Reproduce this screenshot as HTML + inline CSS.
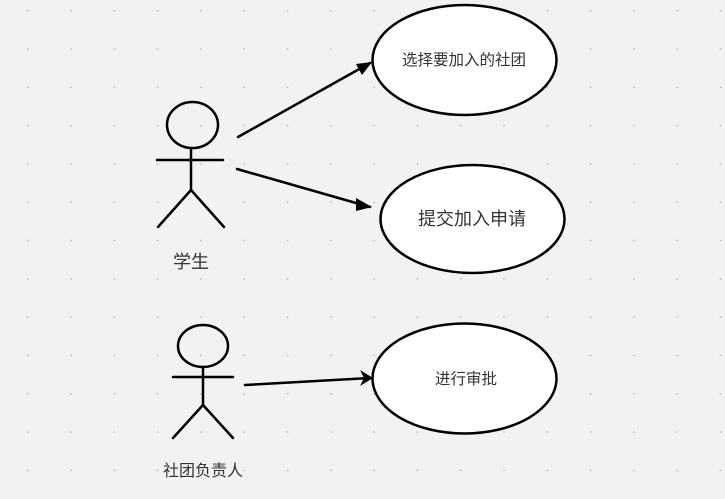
<!DOCTYPE html>
<html><head><meta charset="utf-8"><style>
html,body{margin:0;padding:0;background:#f2f2f4;}
svg{display:block}
text{font-family:"Liberation Sans","Noto Sans CJK SC",sans-serif;fill:#333;}
</style></head><body>
<svg width="725" height="499" viewBox="0 0 725 499" xmlns="http://www.w3.org/2000/svg">
<defs>
<pattern id="g" x="27" y="10" width="43.3" height="38.3" patternUnits="userSpaceOnUse">
<rect x="0" y="0" width="1.5" height="1.5" fill="#bbb"/>
</pattern>
</defs>
<rect width="725" height="499" fill="#f2f2f4"/>
<rect width="725" height="499" fill="url(#g)"/>
<g stroke="#000" stroke-width="2.5" fill="none" stroke-linecap="round">
<ellipse cx="464.5" cy="60" rx="92" ry="55" fill="#fff"/>
<ellipse cx="472.5" cy="219" rx="92" ry="54" fill="#fff"/>
<ellipse cx="464.5" cy="378.5" rx="92" ry="55" fill="#fff"/>
<ellipse cx="192.5" cy="125" rx="25.5" ry="23"/>
<line x1="157" y1="160" x2="223" y2="160"/>
<line x1="191" y1="148" x2="191" y2="190"/>
<line x1="191" y1="190" x2="158" y2="227"/>
<line x1="191" y1="190" x2="224" y2="227"/>
<ellipse cx="203" cy="346" rx="25" ry="21"/>
<line x1="173" y1="377" x2="233" y2="377"/>
<line x1="203" y1="367" x2="203" y2="405"/>
<line x1="203" y1="405" x2="173" y2="438"/>
<line x1="203" y1="405" x2="233" y2="438"/>
<line x1="238" y1="137" x2="370" y2="63"/>
<line x1="237" y1="169" x2="370" y2="207"/>
<line x1="245" y1="385" x2="370" y2="378"/>
</g>
<g fill="#000">
<polygon points="372,62 356,64 362,75"/>
<polygon points="372,207 356,198 356,211"/>
<polygon points="373,378 360,370 364,378 360,386"/>
</g>
<text x="464" y="65" font-size="15.5" text-anchor="middle">选择要加入的社团</text>
<text x="472" y="225" font-size="18" text-anchor="middle">提交加入申请</text>
<text x="466" y="384" font-size="15.5" text-anchor="middle">进行审批</text>
<text x="191" y="268" font-size="18" text-anchor="middle">学生</text>
<text x="203" y="476" font-size="16" text-anchor="middle">社团负责人</text>
</svg>
</body></html>
